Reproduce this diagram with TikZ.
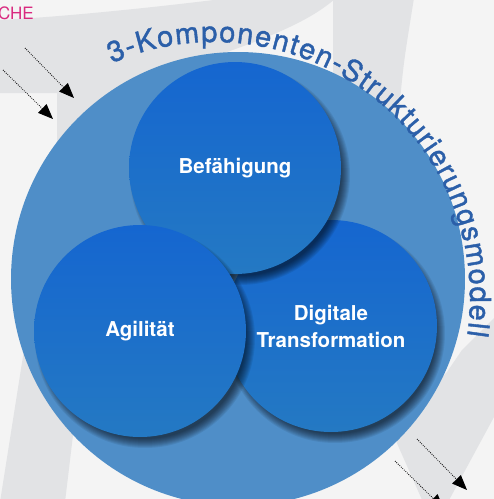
\documentclass[tikz,border=0pt]{standalone}
\usepackage{fontspec}
\setmainfont{TeX Gyre Heros}
\newfontfamily\titlefont{TeX Gyre Heros}[FakeBold=1.3]
\usetikzlibrary{arrows.meta,decorations.text,calc}
\definecolor{bgc}{HTML}{F4F4F4}
\definecolor{bandc}{HTML}{E2E3E5}
\definecolor{mainc}{HTML}{4F8EC8}
\definecolor{ctop}{HTML}{1566D0}
\definecolor{cbot}{HTML}{2479C3}
\definecolor{titlec}{HTML}{2B5FA9}
\definecolor{pinkc}{HTML}{D92A80}
\newcommand\softshadow[3]{%
  \foreach \k in {0,...,9}{\fill[black,opacity=0.075] ({#1+5},{#2-7}) circle[radius={(#3+4-\k)*1pt}];}}
\begin{document}
\begin{tikzpicture}[x=1pt,y=1pt,
  band/.style={fill=bandc},
  comp/.style={circle, inner sep=0pt, minimum size=#1, top color=ctop, bottom color=cbot,
    text=white, font=\fontsize{20.5}{27}\selectfont\bfseries, align=center},
  flow/.style={draw=black, line width=0.8pt, dash pattern=on 0.8pt off 1.3pt,
    -{Triangle[length=15pt,width=12pt]}},
]
\useasboundingbox (0,0) rectangle (494,-499);
\fill[bgc] (0,0) rectangle (494,-499);
% background bands
\begin{scope}
\clip (0,0) rectangle (494,-499);
\fill[band] (0,-20) .. controls (60,-17) and (150,-8) .. (230,2) -- (336,2)
  .. controls (318,-14) and (290,-30) .. (227,-52) -- (150,-130) -- (110,-200)
  -- (82,-360) -- (65,-502) -- (0,-502) -- (57,-141) -- (57,-93) -- (0,-93) -- cycle;
\fill[band] (333,2) -- (333,-160) -- (392,-160) -- (400,-100) .. controls (404,-60) .. (414,2) -- cycle;
\fill[band] (494,-318) -- (462,-350) -- (447,-372) -- (400,-420) -- (392,-432)
  -- (423,-502) -- (448,-502) -- (494,-417) -- cycle;
\end{scope}
% main circle
\node[circle, fill=mainc, minimum size=454pt, inner sep=0pt] (main) at (238,-279) {};
% title on arc
\path[decorate, decoration={text along path, text color=titlec,
   text={|\titlefont\fontsize{29}{31}\selectfont|3-Komponenten-Strukturierungsmodell},
   text align=fit to path}]
  (214,-298) ++(113.5:256pt) arc[start angle=113.5, end angle=-8.5, radius=256pt];
% component circles
\softshadow{330}{-326}{106}
\node[comp=212pt] (dig) at (331,-326) {Digitale\\Transformation};
\softshadow{235}{-168}{106}
\node[comp=212pt] (bef) at (235,-168) {Befähigung};
\softshadow{140}{-331}{106}
\node[comp=212pt] (agi) at (140,-331) {Agilität};
% partial label
\node[anchor=base east, text=pinkc, font=\fontsize{17}{20}\selectfont, inner sep=0pt] (che) at (34,-19) {CHE};
% arrows
\coordinate (p1s) at (25,-48);  \coordinate (p1e) at (74,-98);
\coordinate (p2s) at (3,-70);   \coordinate (p2e) at (53,-119);
\coordinate (q1s) at (417,-439); \coordinate (q1e) at (467,-490);
\coordinate (q2s) at (395,-461); \coordinate (q2e) at (444,-509);
\draw[flow] (p1s) -- (p1e);
\draw[flow] (p2s) -- (p2e);
\draw[flow] (q1s) -- (q1e);
\draw[flow] (q2s) -- (q2e);
\end{tikzpicture}
\end{document}
